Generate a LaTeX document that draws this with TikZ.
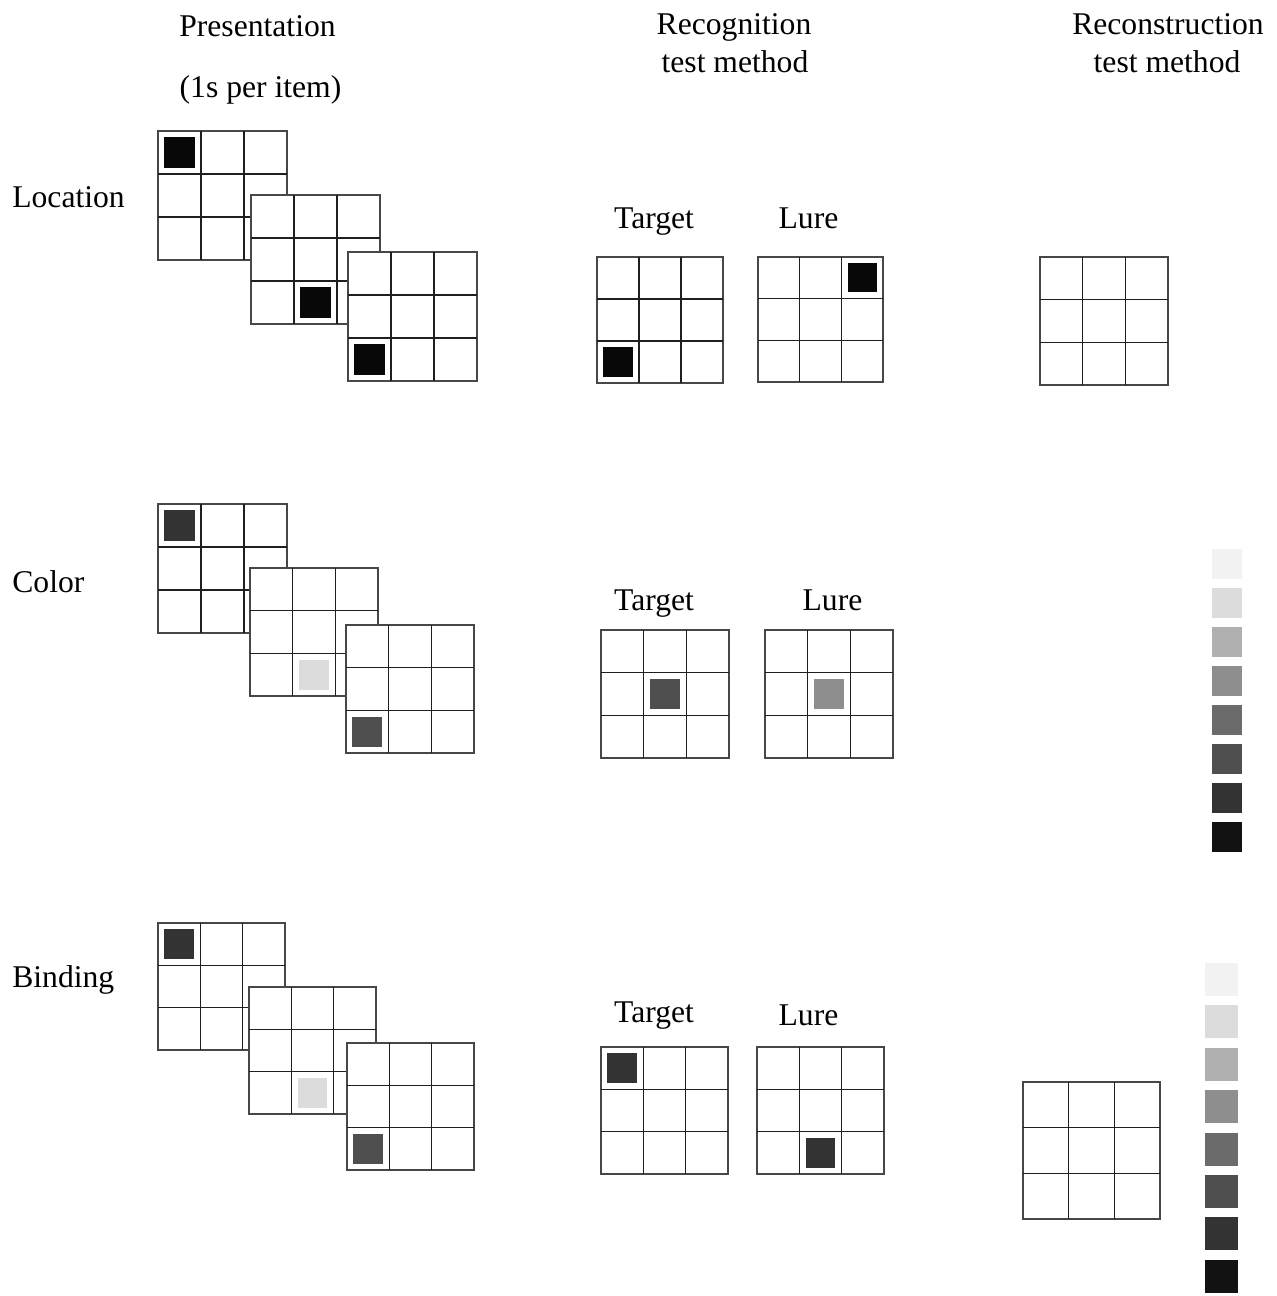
\documentclass[tikz,border=0pt]{standalone}
\usepackage{fontspec}
\setmainfont{Liberation Serif}
\usepackage{xcolor}
\usetikzlibrary{calc}

\definecolor{shade1}{HTML}{F2F2F2}
\definecolor{shade2}{HTML}{DCDCDC}
\definecolor{shade3}{HTML}{B0B0B0}
\definecolor{shade4}{HTML}{8E8E8E}
\definecolor{shade5}{HTML}{6B6B6B}
\definecolor{shade6}{HTML}{4F4F4F}
\definecolor{shade7}{HTML}{333333}
\definecolor{shade8}{HTML}{121212}

\tikzset{
  frame/.style={draw=black!72, line width=1.3pt, fill=white, inner sep=0pt, outer sep=0pt},
  gridline/.style={draw=black!88, line width=0.9pt},
  chip/.style={inner sep=0pt, outer sep=0pt, draw=none},
  swatch/.style={inner sep=0pt, outer sep=0pt, draw=none, minimum width=#1*0.02cm, minimum height=#1*0.02cm},
  txt/.style={inner sep=0pt, anchor=base, font=\fontsize{18}{21.6}\selectfont},
}

\newcommand{\drawboard}[4]{%
  \node[frame, minimum size=#4*0.02cm] (#1) at ({#2+#4/2},{#3+#4/2}) {};
  \foreach \k in {1,2} {
    \draw[gridline] ({#2+\k*#4/3},#3) -- ({#2+\k*#4/3},{#3+#4});
    \draw[gridline] (#2,{#3+\k*#4/3}) -- ({#2+#4},{#3+\k*#4/3});
  }
}
\newcommand{\drawchip}[4]{%
  \path let \p1=(#1.north west), \p2=(#1.south east) in
    node[chip, fill=#4, minimum size={0.7*(\x2-\x1)/3}] (#1-chip)
      at ({\x1+(#2+0.5)*(\x2-\x1)/3},{\y1+(#3+0.5)*(\y2-\y1)/3}) {};
}

\begin{document}
\begin{tikzpicture}[x=0.02cm, y=-0.02cm]
    \useasboundingbox (0,0) rectangle (1276,1296);
    % Headers and row names:
    \node[txt] (hpres) at (257.5,36) {Presentation};
    \node[txt] (hpres2) at (260.5,97) {(1s per item)};
    \node[txt] (hrec) at (734,34) {Recognition};
    \node[txt] (hrec2) at (735,72) {test method};
    \node[txt] (hcon) at (1168,34) {Reconstruction};
    \node[txt] (hcon2) at (1167,72) {test method};
    \node[txt, anchor=base west] (rloc) at (12,207) {Location};
    \node[txt, anchor=base west] (rcol) at (12,592) {Color};
    \node[txt, anchor=base west] (rbin) at (12,987) {Binding};

    % Location:
    \drawboard{locA}{158}{131}{129} \drawchip{locA}{0}{0}{black!97}
    \drawboard{locB}{251}{195}{129} \drawchip{locB}{1}{2}{black!97}
    \drawboard{locC}{348}{252}{129} \drawchip{locC}{0}{2}{black!97}
    \node[txt] (locTt) at (654,228) {Target};
    \node[txt] (locLt) at (808.5,228) {Lure};
    \drawboard{locT}{597}{257}{126} \drawchip{locT}{0}{2}{black!97}
    \drawboard{locL}{758}{257}{125} \drawchip{locL}{2}{0}{black!97}
    \drawboard{locR}{1040}{257}{128}

    % Color:
    \drawboard{colA}{158}{504}{129} \drawchip{colA}{0}{0}{shade7}
    \drawboard{colB}{250}{568}{128} \drawchip{colB}{1}{2}{shade2}
    \drawboard{colC}{346}{625}{128} \drawchip{colC}{0}{2}{shade6}
    \node[txt] (colTt) at (654,610) {Target};
    \node[txt] (colLt) at (832.5,610) {Lure};
    \drawboard{colT}{601}{630}{128} \drawchip{colT}{1}{1}{shade6}
    \drawboard{colL}{765}{630}{128} \drawchip{colL}{1}{1}{shade4}
    \foreach \c [count=\i] in {shade1,shade2,shade3,shade4,shade5,shade6,shade7,shade8}
      \node[swatch=30, fill=\c] (colP\i) at (1227,{564+(\i-1)*39}) {};

    % Binding:
    \drawboard{binA}{158}{923}{127} \drawchip{binA}{0}{0}{shade7}
    \drawboard{binB}{249}{987}{127} \drawchip{binB}{1}{2}{shade2}
    \drawboard{binC}{347}{1043}{127} \drawchip{binC}{0}{2}{shade6}
    \node[txt] (binTt) at (654,1022) {Target};
    \node[txt] (binLt) at (808.5,1025) {Lure};
    \drawboard{binT}{601}{1047}{127} \drawchip{binT}{0}{0}{shade7}
    \drawboard{binL}{757}{1047}{127} \drawchip{binL}{1}{2}{shade7}
    \drawboard{binR}{1023}{1082}{137}
    \foreach \c [count=\i] in {shade1,shade2,shade3,shade4,shade5,shade6,shade7,shade8}
      \node[swatch=33, fill=\c] (binP\i) at (1221,{979.5+(\i-1)*42.4}) {};
  \end{tikzpicture}
\end{document}
